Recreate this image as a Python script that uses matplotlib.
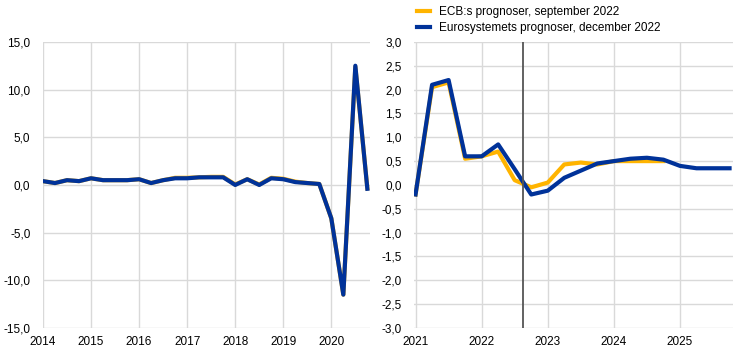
import numpy as np
import matplotlib.pyplot as plt

plt.rcParams['font.family'] = ['Liberation Sans', 'DejaVu Sans']
plt.rcParams['font.size'] = 8.5

blue = '#003299'
yellow = '#ffb400'
grid_col = '#d9d9d9'

# left panel: quarterly growth 2014Q1 - 2020Q4
hist_years = list(range(2014, 2021))
hist_blue = [0.4, 0.2, 0.5, 0.4, 0.7, 0.5, 0.5, 0.5,
             0.6, 0.2, 0.5, 0.7, 0.7, 0.8, 0.8, 0.8,
             0.0, 0.6, 0.0, 0.7, 0.6, 0.3, 0.2, 0.1,
             -3.5, -11.5, 12.5, -0.4]
hist_yellow = [0.4, 0.2, 0.5, 0.4, 0.7, 0.5, 0.5, 0.5,
               0.6, 0.2, 0.5, 0.75, 0.75, 0.8, 0.85, 0.85,
               0.05, 0.6, 0.05, 0.75, 0.65, 0.35, 0.2, 0.1,
               -3.5, -11.5, 12.4, -0.35]

# right panel: 2021Q1 - 2025Q4
proj_years = list(range(2021, 2026))
dec22 = [-0.2, 2.1, 2.2, 0.6, 0.6, 0.85, 0.33, -0.2,
         -0.12, 0.15, 0.3, 0.45, 0.5, 0.55, 0.57, 0.53,
         0.4, 0.35, 0.35, 0.35]
sep22 = [-0.2, 2.05, 2.15, 0.55, 0.6, 0.7, 0.1, -0.05,
         0.05, 0.43, 0.47, 0.43, 0.5, 0.5, 0.5, 0.5]
cutoff = 2022.62

labels = ['ECB:s prognoser, september 2022', 'Eurosystemets prognoser, december 2022']


def qx(start, n):
    return start + np.arange(n) / 4


def fmt(v):
    return f'{v:.1f}'.replace('.', ',')


fig = plt.figure(figsize=(7.41, 3.55), dpi=100)
ax1 = fig.add_axes([0.058, 0.076, 0.441, 0.806])
ax2 = fig.add_axes([0.559, 0.076, 0.43, 0.806])

ax1.plot(qx(2014, len(hist_yellow)), hist_yellow, color=yellow, lw=3)
ax1.plot(qx(2014, len(hist_blue)), hist_blue, color=blue, lw=3)
ax1.set_xlim(2014, 2020.8)
ax1.set_ylim(-15, 15)
ax1.set_xticks(hist_years)
yt1 = np.arange(-15, 16, 5)
ax1.set_yticks(yt1)
ax1.set_yticklabels([fmt(v) for v in yt1])

l1, = ax2.plot(qx(2021, len(sep22)), sep22, color=yellow, lw=3)
l2, = ax2.plot(qx(2021, len(dec22)), dec22, color=blue, lw=3)
ax2.axvline(cutoff, color='#555555', lw=1.3)
ax2.set_xlim(2020.98, 2025.8)
ax2.set_ylim(-3, 3)
ax2.set_xticks(proj_years)
yt2 = np.arange(-3, 3.01, 0.5)
ax2.set_yticks(yt2)
ax2.set_yticklabels([fmt(v) for v in yt2])

for ax in (ax1, ax2):
    ax.grid(True, color=grid_col, lw=1)
    ax.set_axisbelow(True)
    for s in ax.spines.values():
        s.set_visible(False)
    ax.tick_params(length=0, labelsize=8.5, colors='black')
    ax.tick_params(axis='y', pad=9)
    ax.tick_params(axis='x', pad=6)

fig.legend([l1, l2], labels, loc='upper left', bbox_to_anchor=(0.548, 1.013),
           frameon=False, handlelength=1.1, handletextpad=0.8, labelspacing=0.35,
           fontsize=8.5)

fig.savefig('out.png', dpi=100)
